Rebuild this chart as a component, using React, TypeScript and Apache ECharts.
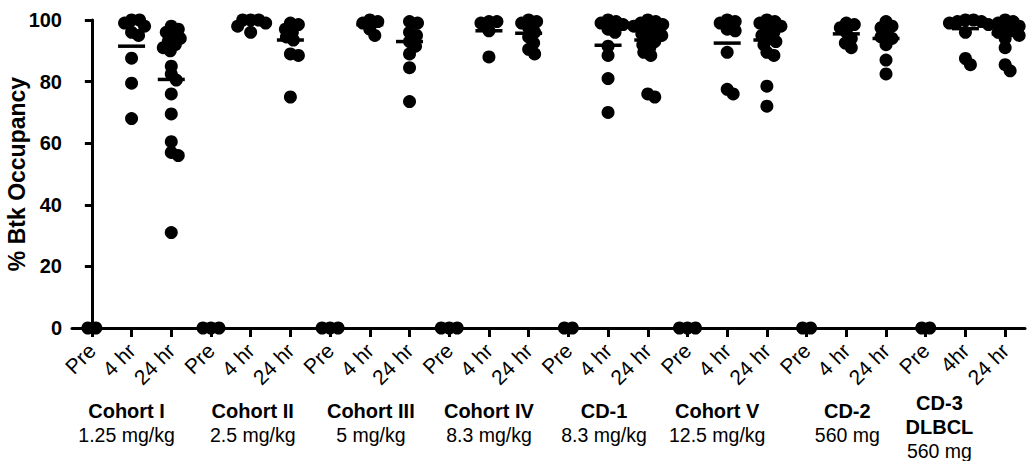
import React, { useEffect, useRef } from "react";
import * as echarts from "echarts";

// Time-point labels along the x axis (3 per dose group)
const TIME_POINTS = [
  "Pre", "4 hr", "24 hr",
  "Pre", "4 hr", "24 hr",
  "Pre", "4 hr", "24 hr",
  "Pre", "4 hr", "24 hr",
  "Pre", "4 hr", "24 hr",
  "Pre", "4 hr", "24 hr",
  "Pre", "4 hr", "24 hr",
  "Pre", "4hr", "24 hr",
];

// Dose groups printed under each triplet
const GROUP_NAMES = ["Cohort I", "Cohort II", "Cohort III", "Cohort IV", "CD-1", "Cohort V", "CD-2", "CD-3\nDLBCL"];
const GROUP_DOSES = ["1.25 mg/kg", "2.5 mg/kg", "5 mg/kg", "8.3 mg/kg", "8.3 mg/kg", "12.5 mg/kg", "560 mg", "560 mg"];
// small horizontal nudges of the group captions (px, negative = left)
const GROUP_SHIFT = [-5, 2, 1, 0, -4, -10, 1, -26];

const Y_TICKS = [0, 20, 40, 60, 80, 100];

// % Btk occupancy per patient
const cohortIPre = [0, 0];
const cohortI4h = [100, 100, 99, 98, 96, 95, 87.6, 79.5, 68];
const cohortI24h = [98, 97, 96, 95, 94, 93, 92, 91, 90, 85, 82.5, 80.5, 76, 69.5, 60.5, 57, 56, 31];
const cohortIIPre = [0, 0, 0];
const cohortII4h = [100, 100, 100, 99, 98, 96];
const cohortII24h = [99, 98.5, 97, 96, 94.5, 93.5, 89, 88.5, 75];
const cohortIIIPre = [0, 0, 0];
const cohortIII4h = [100, 99.5, 99, 97, 95];
const cohortIII24h = [99.5, 99, 96, 95, 93, 91.5, 89, 84.5, 73.5];
const cohortIVPre = [0, 0, 0];
const cohortIV4h = [99.5, 99.5, 99, 96.5, 88];
const cohortIV24h = [100, 99.5, 99, 97.5, 96, 94.5, 92.5, 90.5, 89];
const cd1Pre = [0, 0];
const cd14h = [100, 99.5, 99, 98.5, 97, 96, 91.5, 88.5, 81, 70];
const cd124h = [100, 99.5, 99, 98.5, 98, 97, 96, 95.5, 95, 94, 93, 92, 91, 89.5, 88.5, 76, 75];
const cohortVPre = [0, 0, 0];
const cohortV4h = [100, 99.5, 99, 97, 96.5, 89.5, 77.5, 76];
const cohortV24h = [100, 99.5, 99, 98, 97, 96, 95, 94, 93, 92, 89.5, 88.5, 78.5, 72];
const cd2Pre = [0, 0];
const cd24h = [99, 98.5, 97.5, 96, 94, 92.5, 91];
const cd224h = [99.5, 98, 97.5, 96, 94.5, 94, 92, 87, 82.5];
const cd3Pre = [0, 0];
const cd34h = [100, 100, 99.5, 99.5, 99, 98.5, 96, 87.5, 85.5];
const cd324h = [100, 99.5, 99, 98, 97, 96.5, 96, 95, 94, 91, 85.5, 83.5];

const OCCUPANCY = [
  cohortIPre, cohortI4h, cohortI24h,
  cohortIIPre, cohortII4h, cohortII24h,
  cohortIIIPre, cohortIII4h, cohortIII24h,
  cohortIVPre, cohortIV4h, cohortIV24h,
  cd1Pre, cd14h, cd124h,
  cohortVPre, cohortV4h, cohortV24h,
  cd2Pre, cd24h, cd224h,
  cd3Pre, cd34h, cd324h,
];

// Group mean bars (no bar on the pre-dose columns)
const MEANS: (number | null)[] = [
  null, 91.5, 80.7,
  null, 99, 93.5,
  null, 98.5, 93,
  null, 96.5, 95.7,
  null, 91.8, 93.5,
  null, 92.5, 93.5,
  null, 95.5, 94,
  null, 97.2, 95.5,
];

const W = 1029;
const H = 461;
const GRID = { left: 72, top: 20, width: 953, height: 308 };
const DOT = 13;
const FONT = "'Liberation Sans', Arial, sans-serif";

// Spread tied / close points sideways, beeswarm style (offsets in px)
function swarm(values: number[], pxPerY: number, minDist: number, step: number): number[] {
  const order = values.map((_, i) => i).sort((a, b) => values[b] - values[a]);
  const placed: { x: number; y: number }[] = [];
  const out = new Array(values.length).fill(0);
  for (const idx of order) {
    const y = values[idx] * pxPerY;
    for (let k = 0; k < 200; k++) {
      const m = Math.ceil(k / 2);
      const cand = k === 0 ? 0 : k % 2 === 1 ? m * step : -m * step;
      const ok = placed.every((p) => (p.x - cand) ** 2 + (p.y - y) ** 2 >= minDist * minDist);
      if (ok) {
        placed.push({ x: cand, y });
        out[idx] = cand;
        break;
      }
    }
  }
  if (values.every((v) => v === values[0])) {
    const c = (Math.max(...out) + Math.min(...out)) / 2;
    return out.map((o) => o - c);
  }
  return out;
}

export default function App() {
  const ref = useRef<HTMLDivElement>(null);

  useEffect(() => {
    if (!ref.current) return;
    const chart = echarts.init(ref.current, undefined, { renderer: "svg", width: W, height: H });
    const pxPerCat = GRID.width / TIME_POINTS.length;
    const pxPerY = GRID.height / 100;

    const dots: number[][] = [];
    OCCUPANCY.forEach((vals, ci) => {
      const offs = swarm(vals, pxPerY, 7.5, 1);
      vals.forEach((v, j) => dots.push([ci + offs[j] / pxPerCat, v]));
    });
    const bars: number[][] = [];
    MEANS.forEach((m, ci) => {
      if (m !== null) bars.push([ci, m]);
    });

    // two-line captions get a thin spacer on top so three-line ones sit a bit higher
    const groupData = GROUP_NAMES.map((g, i) => {
      const lines = g.split("\n");
      const names = lines.map((s) => `{b|${s}}`).join("\n");
      const spacer = lines.length === 1 ? "{s| }\n" : "";
      const shift = GROUP_SHIFT[i];
      return {
        value: `${spacer}${names}\n{n|${GROUP_DOSES[i]}}`,
        textStyle: {
          padding: shift < 0 ? [0, -2 * shift, 0, 0] : [0, 0, 0, 2 * shift],
        },
      };
    });

    chart.setOption({
      animation: false,
      backgroundColor: "#ffffff",
      grid: { ...GRID, containLabel: false, outerBoundsMode: "none" },
      xAxis: [
        {
          type: "value",
          min: -0.5,
          max: TIME_POINTS.length - 0.5,
          show: false,
        },
        {
          type: "category",
          data: TIME_POINTS,
          position: "bottom",
          offset: 0,
          boundaryGap: true,
          axisLine: { show: true, lineStyle: { color: "#000", width: 3 } },
          axisTick: { show: true, alignWithLabel: true, length: 9, lineStyle: { color: "#000", width: 3 } },
          axisLabel: {
            interval: 0,
            rotate: 45,
            margin: 19,
            color: "#000",
            fontFamily: FONT,
            fontSize: 21,
          },
          splitLine: { show: false },
        },
        {
          type: "category",
          data: groupData,
          position: "bottom",
          offset: 0,
          boundaryGap: true,
          axisLine: { show: false },
          axisTick: { show: false },
          axisLabel: {
            interval: 0,
            margin: 63,
            align: "center",
            color: "#000",
            fontFamily: FONT,
            rich: {
              s: { fontSize: 1, lineHeight: 8 },
              b: { fontFamily: FONT, fontWeight: "bold", fontSize: 20, lineHeight: 24, color: "#000" },
              n: { fontFamily: FONT, fontSize: 19.5, lineHeight: 24, color: "#000" },
            },
          },
          splitLine: { show: false },
        },
      ],
      yAxis: {
        type: "value",
        min: 0,
        max: 100,
        interval: 20,
        name: "% Btk Occupancy",
        nameLocation: "middle",
        nameGap: 44,
        nameMoveOverlap: false,
        nameTextStyle: { color: "#000", fontFamily: FONT, fontWeight: "bold", fontSize: 23 },
        axisLine: { show: true, lineStyle: { color: "#000", width: 3 } },
        axisTick: { show: true, length: 7, lineStyle: { color: "#000", width: 3 } },
        axisLabel: {
          margin: 10,
          color: "#000",
          fontFamily: FONT,
          fontWeight: "bold",
          fontSize: 20,
          formatter: (v: number) => (Y_TICKS.includes(v) ? String(v) : ""),
        },
        splitLine: { show: false },
      },
      series: [
        {
          type: "scatter",
          xAxisIndex: 0,
          data: dots,
          symbol: "circle",
          symbolSize: DOT,
          clip: false,
          itemStyle: { color: "#000", opacity: 1 },
          z: 3,
        },
        {
          type: "scatter",
          xAxisIndex: 0,
          data: bars,
          symbol: "rect",
          symbolSize: [27, 3.5],
          clip: false,
          itemStyle: { color: "#000", opacity: 1 },
          z: 4,
        },
      ],
    });

    return () => chart.dispose();
  }, []);

  return (
    <div
      ref={ref}
      style={{ position: "fixed", left: 0, top: 0, width: W, height: H, background: "#fff" }}
    />
  );
}
